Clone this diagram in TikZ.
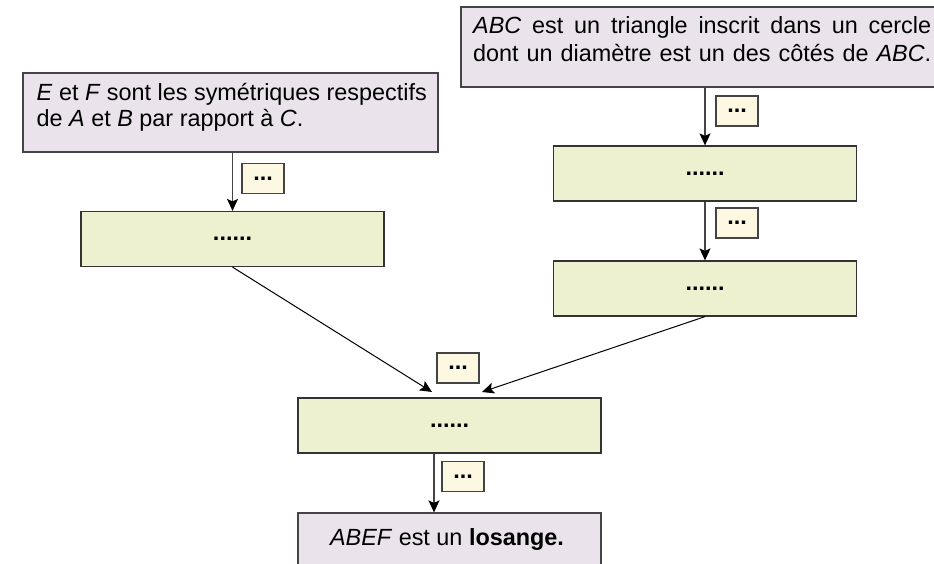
\documentclass[tikz,border=0pt]{standalone}
\usepackage{fontspec}
\setmainfont{Liberation Sans}
\usetikzlibrary{arrows.meta}
\definecolor{lilac}{HTML}{EAE3EC}
\definecolor{pale}{HTML}{EEF1D0}
\definecolor{cream}{HTML}{FCF8E2}
\definecolor{edge}{HTML}{444444}
\begin{document}
\begin{tikzpicture}[x=1pt,y=-1pt,
  every node/.style={font=\fontsize{23.4}{28}\selectfont, inner sep=0pt},
  hyp/.style={draw=edge, line width=1.6pt, fill=lilac},
  stepbox/.style={draw=black!80, line width=1.2pt, fill=pale, minimum width=303pt, minimum height=55pt},
  tag/.style={draw=edge, line width=1.2pt, fill=cream, minimum width=42pt, minimum height=30pt},
  flow/.style={draw=edge, line width=1.3pt, -{Stealth[length=12pt,width=11pt,inset=2.5pt,fill=black,color=black]}},
  flowd/.style={draw=black, line width=1pt, -{Stealth[length=12pt,width=11pt,inset=2.5pt]}},
]
\useasboundingbox (0,0) rectangle (934,564);

% hypothesis boxes
\node[hyp, minimum width=415pt, minimum height=79pt] (h1) at (230.5,112.5) {};
\node[anchor=base west] (h1a) at (36.5,101) {\textit{E} et \textit{F} sont les symétriques respectifs};
\node[anchor=base west] (h1b) at (36.5,127) {de \textit{A} et \textit{B} par rapport à \textit{C}.};

\node[hyp, minimum width=490pt, minimum height=80pt] (h2) at (706,47) {};
\node[anchor=base west] (h2a) at (473,34) {\makebox[458pt][s]{\textit{ABC} est un triangle inscrit dans un cercle}};
\node[anchor=base west] (h2b) at (473,62) {\makebox[458pt][s]{dont un diamètre est un des côtés de \textit{ABC}.}};

% step boxes
\node[stepbox] (b1) at (232.5,239) {\textbf{......}};
\node[stepbox] (b2) at (705,173.5) {\textbf{......}};
\node[stepbox] (b3) at (705,288.5) {\textbf{......}};
\node[stepbox] (b4) at (449.5,425.5) {\textbf{......}};

% conclusion
\node[hyp, line width=1.2pt, minimum width=303pt, minimum height=67pt] (fin) at (449.5,546.5) {};
\node[anchor=base] (fint) at (447,545) {\textit{ABEF} est un \textbf{losange.}};

% tags
\node[tag] (l1) at (263,178.5) {\textbf{...}};
\node[tag] (r1) at (737,111) {\textbf{...}};
\node[tag] (r2) at (737,223) {\textbf{...}};
\node[tag] (mm) at (458,368) {\textbf{...}};
\node[tag] (bb) at (463,476.5) {\textbf{...}};

% connectors
\coordinate (m1) at (432,392);
\coordinate (m2) at (482,392);
\draw[flow] (b1.north |- h1.south) -- (b1.north);
\draw[flow] (b2.north |- h2.south) -- (b2.north);
\draw[flow] (b2.south) -- (b3.north);
\draw[flowd] (b1.south) -- (m1);
\draw[flowd] (b3.south) -- (m2);
\draw[flow] ([xshift=-15.5pt]b4.south) -- ([xshift=-15.5pt]fin.north);
\end{tikzpicture}
\end{document}
